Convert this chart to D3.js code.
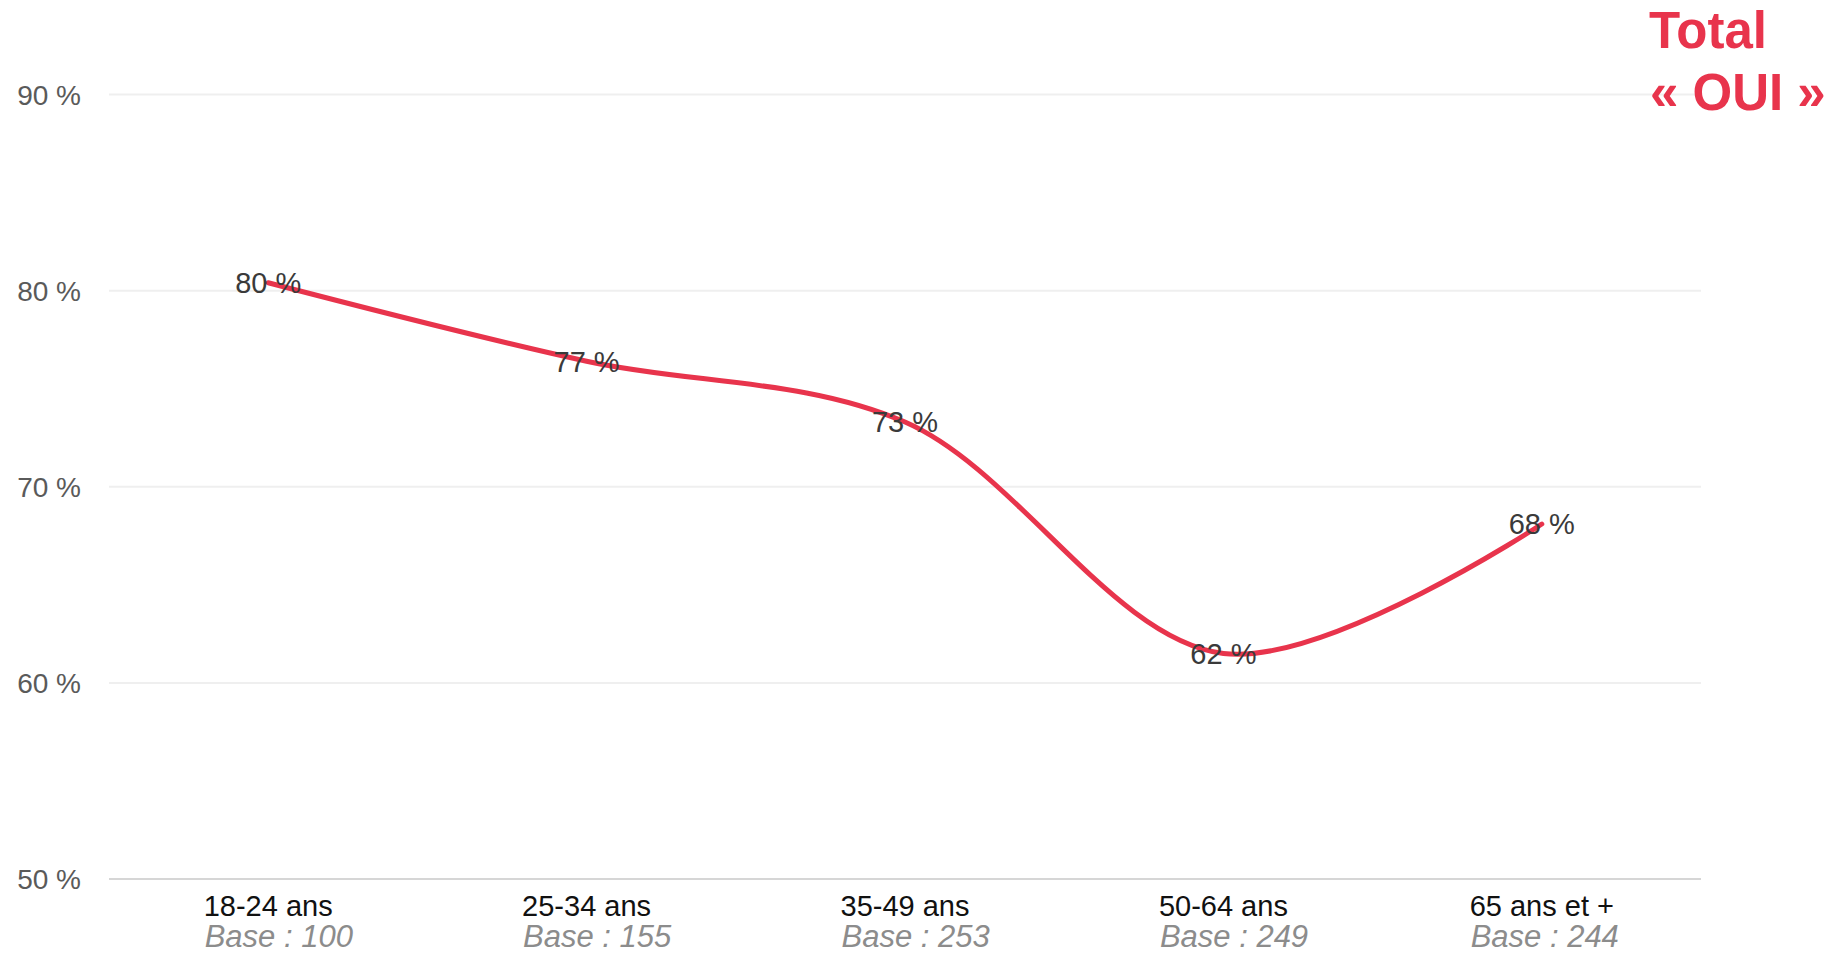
<!DOCTYPE html>
<html>
<head>
<meta charset="utf-8">
<script src="https://cdn.jsdelivr.net/npm/d3@7"></script>
<style>
  body { margin: 0; background: #fff; }
  svg { display: block; font-family: "Liberation Sans", Arial, sans-serif; }
</style>
</head>
<body>
<div id="chart"></div>
<script>
const categories = ["18-24 ans", "25-34 ans", "35-49 ans", "50-64 ans", "65 ans et +"];
const bases = ["Base : 100", "Base : 155", "Base : 253", "Base : 249", "Base : 244"];
const values = [80.4, 76.4, 73.3, 61.5, 68.1];
const valueLabels = ["80 %", "77 %", "73 %", "62 %", "68 %"];
const yTicks = [50, 60, 70, 80, 90];

const width = 1842, height = 953;
const margin = { top: 94.5, right: 141, bottom: 74, left: 109 };
const red = "#e8344c";

const svg = d3.select("#chart").append("svg")
  .attr("width", width)
  .attr("height", height);

const x = d3.scaleBand()
  .domain(categories)
  .range([margin.left, width - margin.right]);

const y = d3.scaleLinear()
  .domain([50, 90])
  .range([height - margin.bottom, margin.top]);

// grid lines
svg.append("g")
  .selectAll("line")
  .data(yTicks)
  .join("line")
  .attr("x1", margin.left)
  .attr("x2", width - margin.right)
  .attr("y1", d => y(d))
  .attr("y2", d => y(d))
  .attr("stroke", d => d === 50 ? "#d6d6d6" : "#efefef")
  .attr("stroke-width", 2);

// y tick labels
svg.append("g")
  .selectAll("text")
  .data(yTicks)
  .join("text")
  .attr("x", 81)
  .attr("y", d => y(d))
  .attr("dy", "0.36em")
  .attr("text-anchor", "end")
  .attr("fill", "#5a5a5a")
  .style("font-size", "28px")
  .text(d => d + " %");

// x labels: category centred, base left-aligned under it
const xl = svg.append("g");
const cats = xl.selectAll("text.cat")
  .data(categories)
  .join("text")
  .attr("class", "cat")
  .attr("x", d => x(d) + x.bandwidth() / 2)
  .attr("y", 916)
  .attr("text-anchor", "middle")
  .attr("fill", "#111")
  .style("font-size", "29px")
  .text(d => d);

const lefts = cats.nodes().map(n => n.getBBox().x);

xl.selectAll("text.base")
  .data(categories)
  .join("text")
  .attr("class", "base")
  .attr("x", (d, i) => lefts[i] + 1)
  .attr("y", 947)
  .attr("fill", "#8c8c8c")
  .style("font-size", "31px")
  .style("font-style", "italic")
  .text((d, i) => bases[i]);

// line
const pts = categories.map((c, i) => [x(c) + x.bandwidth() / 2, y(values[i])]);
const line = d3.line().curve(d3.curveCatmullRom.alpha(0.5));

svg.append("path")
  .attr("d", line(pts))
  .attr("fill", "none")
  .attr("stroke", red)
  .attr("stroke-width", 5)
  .attr("stroke-linecap", "round");

// value labels
svg.append("g")
  .selectAll("text")
  .data(valueLabels)
  .join("text")
  .attr("x", (d, i) => pts[i][0])
  .attr("y", (d, i) => pts[i][1])
  .attr("dy", "0.36em")
  .attr("text-anchor", "middle")
  .attr("fill", "#3a3a3a")
  .style("font-size", "29px")
  .text(d => d);

// title
const title = svg.append("text")
  .attr("x", 1649)
  .attr("y", 48)
  .attr("fill", red)
  .style("font-size", "51px")
  .style("font-weight", "bold");
title.append("tspan").attr("x", 1649).text("Total");
title.append("tspan").attr("x", 1650).attr("y", 110).text("« OUI »");
</script>
</body>
</html>
